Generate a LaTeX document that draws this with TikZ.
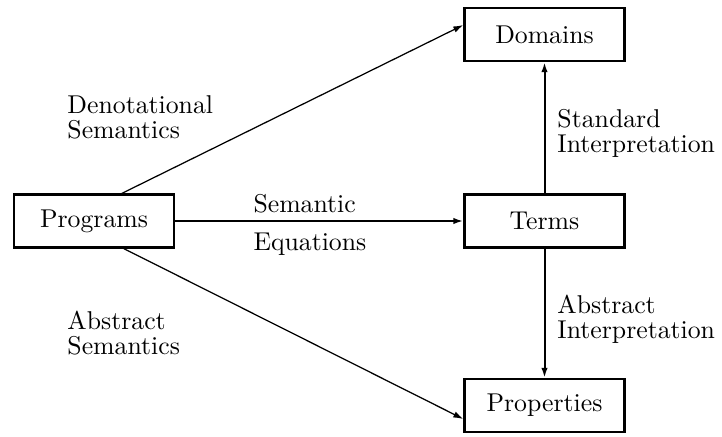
\documentclass[tikz,border=0pt]{standalone}
\usetikzlibrary{arrows.meta}
\begin{document}
\begin{tikzpicture}[x=0.4pt,y=-0.4pt,
  box/.style={draw,line width=0.95pt,minimum width=64pt,minimum height=21.2pt,inner sep=0pt,font=\fontsize{10.3}{10}\selectfont},
  lbl/.style={inner sep=0pt,anchor=base west,align=left,font=\fontsize{10.3}{10}\selectfont},
  arr/.style={line width=0.8pt,-{Latex[length=4pt,width=2.6pt]}},
  diag/.style={line width=0.5pt,-{Latex[length=4pt,width=2.6pt]}}]
\useasboundingbox (0,0) rectangle (722,436);
\node[box] (prog) at (94,221) {Programs};
\node[box] (dom) at (544.5,34.5) {Domains};
\node[box] (terms) at (544.5,221) {Terms};
\node[box] (prop) at (544.5,405.5) {Properties};
\draw[arr] (prog) -- (terms);
\draw[arr] (terms) -- (dom);
\draw[arr] (terms) -- (prop);
\draw[diag] ([xshift=11.2pt]prog.north) -- ([yshift=3.8pt]dom.west);
\draw[diag] ([xshift=12pt]prog.south) -- ([yshift=-5.4pt]prop.west);
\node[lbl] (l1) at (67,138) {Denotational\\Semantics};
\node[lbl] (l2) at (67,354) {Abstract\\Semantics};
\node[lbl] (l3) at (253,212) {Semantic};
\node[lbl] (l4) at (253,250) {Equations};
\node[lbl] (l5) at (557,152) {Standard\\Interpretation};
\node[lbl] (l6) at (557,338) {Abstract\\Interpretation};
\end{tikzpicture}
\end{document}
